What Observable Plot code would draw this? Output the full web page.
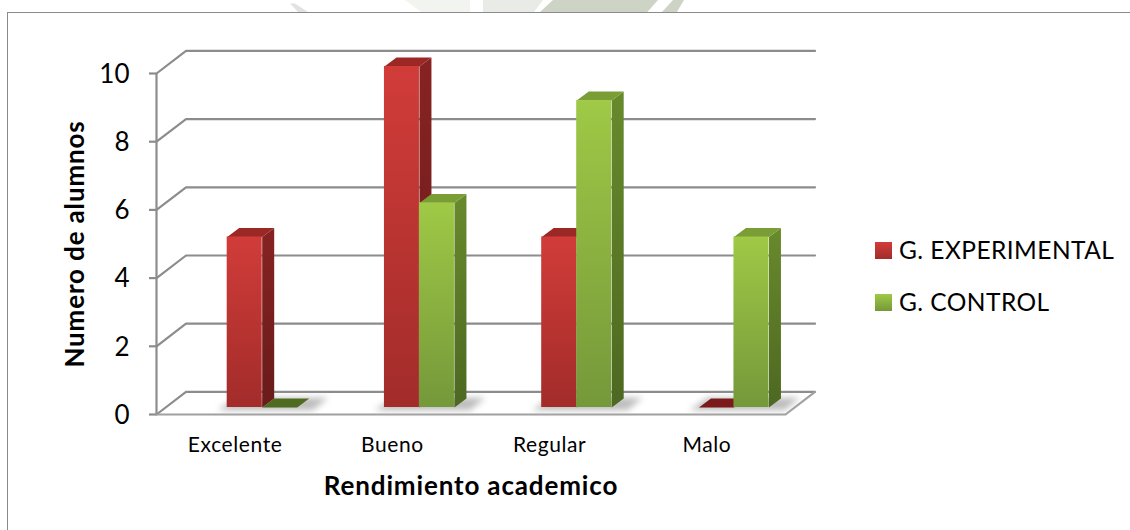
<!DOCTYPE html>
<html><head><meta charset="utf-8">
<script src="https://cdn.jsdelivr.net/npm/d3@7"></script>
<script src="https://cdn.jsdelivr.net/npm/@observablehq/plot@0.6"></script>
<style>
html,body{margin:0;padding:0;background:#fff;overflow:hidden}
#wrap{position:relative;width:1130px;height:530px;overflow:hidden;font-family:Lato,"Open Sans",sans-serif;color:#000}
#frame{position:absolute;left:7px;top:12px;width:1140px;height:540px;border:1.5px solid #8a8a8a}
#wrap svg{position:absolute;left:0;top:0;background:transparent}
.wm{position:absolute;top:0;height:12px}
.shadow{filter:blur(3px)}
.xt text{letter-spacing:.6px}
.title{letter-spacing:.85px}
.legend{position:absolute;left:875px;font-size:24.5px;line-height:24px;white-space:nowrap;letter-spacing:.45px}
.legend i{position:absolute;left:0;width:17px;height:17px}
.legend span{position:absolute;left:24px}
</style></head><body><div id="wrap">
<div class="wm" style="left:290px;width:20px;background:#e2e2e2;clip-path:polygon(0 30%,25% 30%,90% 100%,40% 100%)"></div>
<div class="wm" style="left:405px;width:65px;background:#f2f4f0;clip-path:polygon(0 0,100% 0,100% 100%,25% 100%)"></div>
<div class="wm" style="left:483px;width:60px;background:#e8ebe6;clip-path:polygon(0 0,100% 0,85% 100%,0 100%)"></div>
<div class="wm" style="left:540px;width:118px;background:#cdd4c6;clip-path:polygon(11% 0,100% 0,91% 100%,0 100%)"></div>
<div class="wm" style="left:662px;width:22px;background:#cdd4c6;clip-path:polygon(50% 0,100% 0,68% 100%,0 100%)"></div>
<div id="frame"></div></div>
<script>
const categories = ["Excelente", "Bueno", "Regular", "Malo"];
const experimental = [5, 10, 5, 0];
const control = [0, 6, 9, 5];
const yTicks = [0, 2, 4, 6, 8, 10];
const seriesNames = ["G. EXPERIMENTAL", "G. CONTROL"];

// oblique projection, expressed in scale units
const slotPx = 157.25, unitPx = 34.1;
const wallX = 29.5 / slotPx, wallY = 22.6 / unitPx;
const barX = 12 / slotPx, barY = 9 / unitPx;
const baseY = 7 / unitPx, barW = 35 / slotPx, barStart = 70.7 / slotPx;

const grads = [
  ["rFront", "#d13c39", "#a22c2a"], ["rSide", "#872322", "#691b1a"],
  ["gFront", "#9fc946", "#75983a"], ["gSide", "#688a2c", "#4d6821"]
];
const defs = () => {
  const ns = "http://www.w3.org/2000/svg";
  const d = document.createElementNS(ns, "defs");
  for (const [id, a, b] of grads) {
    const g = document.createElementNS(ns, "linearGradient");
    g.setAttribute("id", id); g.setAttribute("x1", 0); g.setAttribute("y1", 0); g.setAttribute("x2", 0); g.setAttribute("y2", 1);
    [[0, a], [1, b]].forEach(([o, c]) => {
      const s = document.createElementNS(ns, "stop");
      s.setAttribute("offset", o); s.setAttribute("stop-color", c); g.appendChild(s);
    });
    d.appendChild(g);
  }
  return d;
};

const gridRows = yTicks.flatMap(t => [
  {id: "l" + t, x: 0, y: t}, {id: "l" + t, x: wallX, y: t + wallY}, {id: "l" + t, x: 4 + wallX, y: t + wallY}
]);
const floorFront = [{x: 0, y: 0}, {x: 4, y: 0}, {x: 4 + wallX, y: wallY}];

function polys(values, off, corners) {
  return values.flatMap((v, i) => {
    const x0 = i + barStart + off * barW;
    return corners(x0, baseY + v, baseY).map(([x, y]) => ({id: i, v, x, y}));
  });
}
const sideOf = (x0, top, bot) => [[x0 + barW, bot], [x0 + barW + barX, bot + barY], [x0 + barW + barX, top + barY], [x0 + barW, top]];
const topOf = (x0, top) => [[x0, top], [x0 + barX, top + barY], [x0 + barW + barX, top + barY], [x0 + barW, top]];
const shadowOf = (x0, top, bot) => [[x0 - 0.06, bot - 0.08], [x0 + barX - 0.02, bot + barY + 0.02], [x0 + 2 * barW + barX + 0.12, bot + barY + 0.02], [x0 + 2 * barW + 0.1, bot - 0.08]];

function seriesMarks(values, off, p) {
  const xx = i => i + barStart + off * barW;
  const nz = values.map((v, i) => ({v, i})).filter(d => d.v > 0);
  return [
    Plot.line(polys(values, off, sideOf).filter(d => d.v > 0),
      {x: "x", y: "y", z: "id", fill: `url(#${p}Side)`, stroke: "none"}),
    Plot.line(polys(values, off, topOf).filter(d => d.v > 0),
      {x: "x", y: "y", z: "id", fill: p === "r" ? "#9c2826" : "#7a9d35", stroke: "none"}),
    Plot.line(polys(values, off, topOf).filter(d => d.v === 0),
      {x: "x", y: "y", z: "id", fill: p === "r" ? "#7a1a1a" : "#4f6b22", stroke: "none"}),
    Plot.rect(nz, {x1: d => xx(d.i), x2: d => xx(d.i) + barW, y1: baseY, y2: d => baseY + d.v, fill: `url(#${p}Front)`, inset: 0})
  ];
}

const chart = Plot.plot({
  width: 1130, height: 530,
  marginLeft: 156, marginRight: 345, marginTop: 73, marginBottom: 116,
  x: {domain: [0, 4]},
  y: {domain: [0, 10]},
  style: {fontFamily: "Lato, 'Open Sans', sans-serif", color: "#000", overflow: "visible", background: "transparent"},
  marks: [
    defs,
    Plot.line(gridRows, {x: "x", y: "y", z: "id", stroke: "#8c8c8c", strokeWidth: 2.2}),
    Plot.line(floorFront, {x: "x", y: "y", stroke: "#a0a0a0", strokeWidth: 2.2}),
    Plot.ruleX([0], {y1: 0, y2: 10, stroke: "#8c8c8c", strokeWidth: 2.2}),
    Plot.ruleY(yTicks, {x1: -7 / slotPx, x2: 0, stroke: "#8c8c8c", strokeWidth: 2.2}),
    Plot.line(polys(experimental, 0, shadowOf), {x: "x", y: "y", z: "id", fill: "#bdbdbd", stroke: "none", className: "shadow"}),
    Plot.axisY({ticks: yTicks, tickSize: 0, tickPadding: 27, fontSize: 26, label: null, tickFormat: d => d, dy: 1}),
    Plot.axisX({ticks: categories.map((c, i) => i + 0.5), tickFormat: d => categories[Math.floor(d)], tickSize: 0, tickPadding: 23, fontSize: 21, label: null, className: "xt"}),
    ...seriesMarks(experimental, 0, "r"),
    ...seriesMarks(control, 1, "g"),
    Plot.text(["Rendimiento academico"], {frameAnchor: "bottom", dy: 72, lineAnchor: "middle", fontSize: 26, fontWeight: 700, className: "title"}),
    Plot.text(["Numero de alumnos"], {frameAnchor: "left", dx: -81, rotate: -90, textAnchor: "middle", fontSize: 26, fontWeight: 700, className: "title"})
  ]
});
const wrap = document.getElementById("wrap");
wrap.appendChild(chart);
seriesNames.forEach((name, k) => {
  const row = document.createElement("div");
  row.className = "legend";
  row.style.top = (k ? 294 : 242) + "px";
  const sw = document.createElement("i");
  sw.style.background = k ? "linear-gradient(#9fc946,#75983a)" : "linear-gradient(#d13c39,#a22c2a)";
  const t = document.createElement("span");
  t.textContent = name;
  t.style.top = "-4px";
  row.append(sw, t);
  wrap.appendChild(row);
});
</script></body></html>
